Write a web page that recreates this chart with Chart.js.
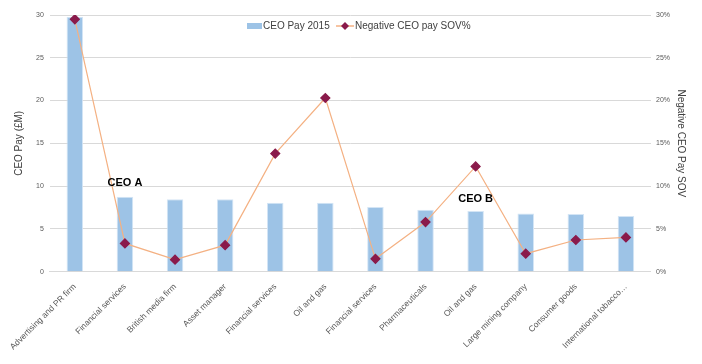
<!DOCTYPE html>
<html>
<head>
<meta charset="utf-8">
<script src="https://cdn.jsdelivr.net/npm/chart.js@4.4.1/dist/chart.umd.min.js"></script>
<style>
  html, body { margin: 0; padding: 0; background: #fff; }
  #wrap { width: 702px; height: 364px; }
</style>
</head>
<body>
<div id="wrap"><canvas id="ceo-pay"></canvas></div>
<script>
var categories = [
    "Advertising and PR firm",
    "Financial services",
    "British media firm",
    "Asset manager",
    "Financial services",
    "Oil and gas",
    "Financial services",
    "Pharmaceuticals",
    "Oil and gas",
    "Large mining company",
    "Consumer goods",
    "International tobacco\u2026"
]
var ceoPay2015 = [29.8, 8.75, 8.45, 8.45, 8.05, 8.05, 7.55, 7.25, 7.1, 6.8, 6.75, 6.5]
var negativeSov = [29.5, 3.3, 1.4, 3.1, 13.8, 20.3, 1.5, 5.8, 12.3, 2.1, 3.7, 4.0]
var callouts = [
    { text: "CEO A", index: 1, value: 10.4 },
    { text: "CEO B", index: 8, value: 8.5 }
]

var barColor = "#9DC3E6"
var lineColor = "#F4B183"
var markerColor = "#8A1A4B"
var font = "'Liberation Sans', Arial, sans-serif"

// callout labels + legend drawn inside the plot area
var overlayPlugin = {
    id: 'overlay',
    afterDatasetsDraw: function (chart) {
        var ctx = chart.ctx
        var x = chart.scales.x
        var y = chart.scales.y
        ctx.save()
        ctx.font = "bold 11px " + font
        ctx.fillStyle = "#000"
        ctx.textAlign = "center"
        ctx.textBaseline = "middle"
        callouts.forEach(function (c) {
            ctx.fillText(c.text, x.getPixelForValue(c.index), y.getPixelForValue(c.value))
        })

        // legend
        var ly = 26
        ctx.font = "10px " + font
        ctx.textAlign = "left"
        ctx.fillStyle = barColor
        ctx.fillRect(247, ly - 3, 15, 6)
        ctx.fillStyle = "#404040"
        ctx.fillText("CEO Pay 2015", 263, ly)
        ctx.strokeStyle = lineColor
        ctx.lineWidth = 1.5
        ctx.beginPath()
        ctx.moveTo(336, ly)
        ctx.lineTo(354, ly)
        ctx.stroke()
        ctx.fillStyle = markerColor
        ctx.beginPath()
        ctx.moveTo(345, ly - 4)
        ctx.lineTo(349, ly)
        ctx.lineTo(345, ly + 4)
        ctx.lineTo(341, ly)
        ctx.closePath()
        ctx.fill()
        ctx.fillStyle = "#404040"
        ctx.fillText("Negative CEO pay SOV%", 355, ly)
        ctx.restore()
    }
}

new Chart(document.getElementById("ceo-pay"), {
    type: 'bar',
    data: {
        labels: categories,
        datasets: [
            {
                type: 'line',
                label: 'Negative CEO pay SOV%',
                data: negativeSov,
                yAxisID: 'y1',
                borderColor: lineColor,
                borderWidth: 1.2,
                pointStyle: 'rectRot',
                pointRadius: 4.5,
                pointBackgroundColor: markerColor,
                pointBorderColor: markerColor,
                tension: 0,
                order: 0
            },
            {
                label: 'CEO Pay 2015',
                data: ceoPay2015,
                yAxisID: 'y',
                backgroundColor: barColor,
                borderColor: "#D4E5F5",
                borderWidth: 1,
                categoryPercentage: 1,
                barPercentage: 0.33,
                order: 1
            }
        ]
    },
    options: {
        responsive: true,
        maintainAspectRatio: false,
        animation: false,
        layout: { padding: { top: 15, right: 15, bottom: 10, left: 13 } },
        plugins: {
            legend: { display: false },
            tooltip: { enabled: false }
        },
        scales: {
            x: {
                grid: { display: false },
                border: { color: "#D9D9D9" },
                ticks: {
                    autoSkip: false,
                    minRotation: 45,
                    maxRotation: 45,
                    color: "#595959",
                    font: { family: font, size: 8.5 },
                    padding: 2
                }
            },
            y: {
                position: 'left',
                min: 0,
                max: 30,
                ticks: {
                    stepSize: 5,
                    color: "#595959",
                    font: { family: font, size: 7 },
                    padding: 6
                },
                grid: { color: "#D9D9D9", drawTicks: false },
                border: { display: false },
                title: {
                    display: true,
                    text: 'CEO Pay (\u00A3M)',
                    color: "#404040",
                    font: { family: font, size: 10 },
                    padding: { top: 0, bottom: 5 }
                }
            },
            y1: {
                position: 'right',
                min: 0,
                max: 30,
                ticks: {
                    stepSize: 5,
                    color: "#595959",
                    font: { family: font, size: 7 },
                    padding: 5,
                    callback: function (v) { return v + '%' }
                },
                grid: { display: false, drawTicks: false },
                border: { display: false },
                title: {
                    display: true,
                    text: 'Negative CEO Pay SOV',
                    color: "#404040",
                    font: { family: font, size: 10 },
                    padding: { top: 0, bottom: 0 }
                }
            }
        }
    },
    plugins: [overlayPlugin]
});
</script>
</body>
</html>
